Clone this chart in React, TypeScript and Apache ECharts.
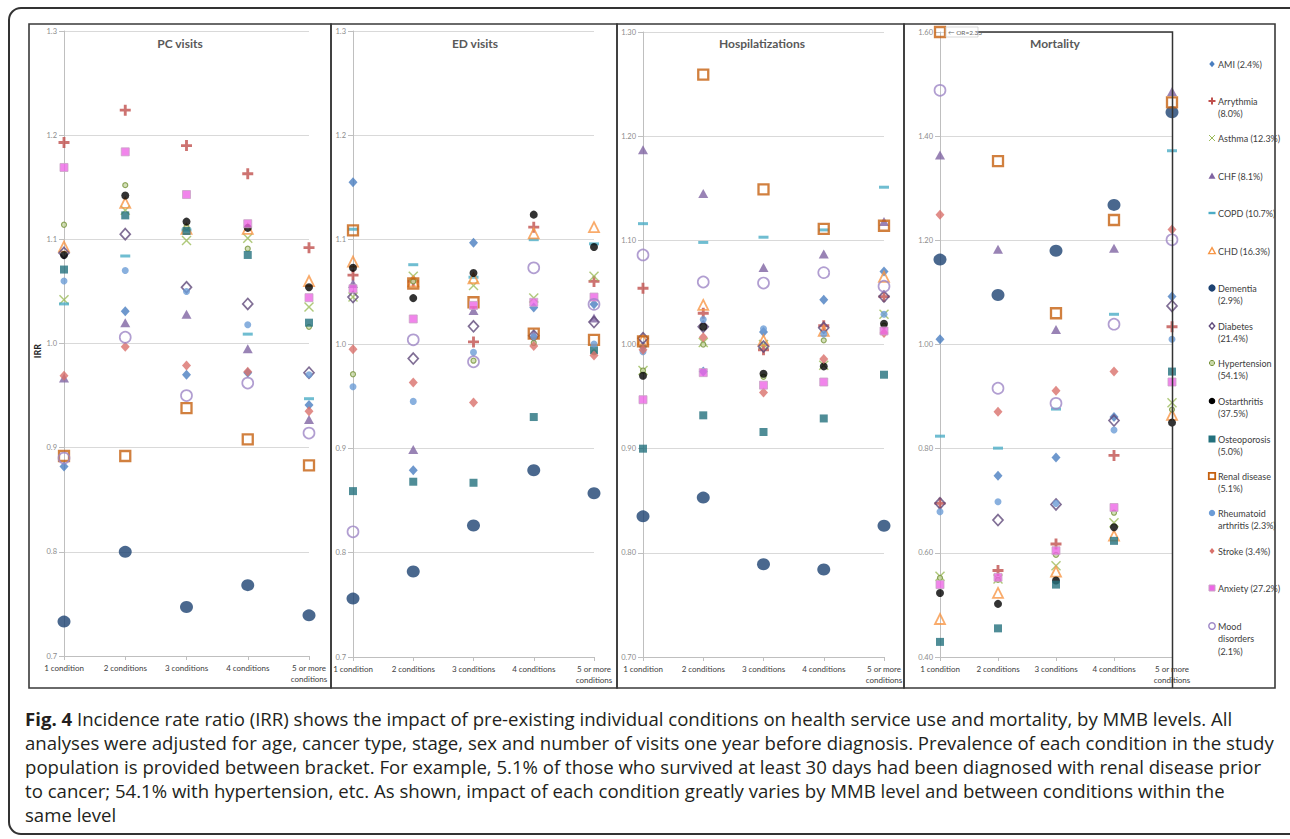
import React, { useEffect, useRef } from "react";
import * as echarts from "echarts";

const categories = ["1 condition", "2 conditions", "3 conditions", "4 conditions", "5 or more\nconditions"];

const conditionNames = [
  "AMI (2.4%)", "Arrythmia\n(8.0%)", "Asthma (12.3%)", "CHF (8.1%)", "COPD (10.7%)", "CHD (16.3%)",
  "Dementia\n(2.9%)", "Diabetes\n(21.4%)", "Hypertension\n(54.1%)", "Ostarthritis\n(37.5%)",
  "Osteoporosis\n(5.0%)", "Renal disease\n(5.1%)", "Rheumatoid\narthritis (2.3%)", "Stroke (3.4%)",
  "Anxiety (27.2%)", "Mood\ndisorders\n(2.1%)",
];

// order: AMI, Arrythmia, Asthma, CHF, COPD, CHD, Dementia, Diabetes, Hypertension,
// Ostarthritis, Osteoporosis, Renal, Rheumatoid, Stroke, Anxiety, Mood
const pcVisits: number[][] = [
  [0.882, 1.031, 0.970, 0.972, 0.941],
  [1.193, 1.224, 1.190, 1.163, 1.092],
  [1.042, 1.128, 1.099, 1.101, 1.035],
  [0.967, 1.020, 1.028, 0.995, 0.927],
  [1.038, 1.084, 1.109, 1.009, 0.947],
  [1.093, 1.135, 1.110, 1.110, 1.060],
  [0.733, 0.800, 0.747, 0.768, 0.739],
  [1.087, 1.105, 1.054, 1.038, 0.972],
  [1.114, 1.152, 1.112, 1.091, 1.016],
  [1.085, 1.142, 1.117, 1.111, 1.054],
  [1.071, 1.123, 1.108, 1.085, 1.020],
  [0.892, 0.892, 0.938, 0.908, 0.883],
  [1.060, 1.070, 1.050, 1.018, 0.970],
  [0.969, 0.997, 0.979, 0.973, 0.935],
  [1.169, 1.184, 1.143, 1.115, 1.044],
  [0.890, 1.006, 0.950, 0.962, 0.914],
];

const edVisits: number[][] = [
  [1.155, 0.879, 1.097, 1.035, 1.038],
  [1.066, 1.060, 1.002, 1.112, 1.060],
  [1.045, 1.065, 1.056, 1.044, 1.065],
  [1.058, 0.899, 1.032, 1.009, 1.025],
  [1.110, 1.076, 1.064, 1.100, 1.096],
  [1.079, 1.060, 1.063, 1.106, 1.112],
  [0.756, 0.782, 0.826, 0.879, 0.857],
  [1.045, 0.986, 1.017, 1.008, 1.021],
  [0.971, 1.060, 0.984, 1.001, 0.992],
  [1.073, 1.044, 1.068, 1.124, 1.093],
  [0.859, 0.868, 0.867, 0.930, 0.994],
  [1.109, 1.058, 1.040, 1.010, 1.004],
  [0.959, 0.945, 0.992, 1.007, 1.000],
  [0.995, 0.963, 0.944, 0.998, 0.989],
  [1.053, 1.024, 1.037, 1.040, 1.045],
  [0.820, 1.004, 0.983, 1.073, 1.038],
];

const hospitalizations: number[][] = [
  [0.998, 0.974, 1.012, 1.043, 1.070],
  [1.054, 1.030, 0.995, 1.018, 1.046],
  [0.975, 1.002, 1.000, 0.980, 1.029],
  [1.187, 1.145, 1.074, 1.087, 1.118],
  [1.116, 1.098, 1.103, 1.110, 1.151],
  [1.005, 1.038, 1.004, 1.013, 1.065],
  [0.835, 0.853, 0.789, 0.784, 0.826],
  [1.006, 1.017, 0.998, 1.016, 1.046],
  [0.975, 1.000, 0.969, 1.004, 1.018],
  [0.970, 1.017, 0.972, 0.979, 1.020],
  [0.900, 0.932, 0.916, 0.929, 0.971],
  [1.003, 1.259, 1.149, 1.111, 1.114],
  [0.993, 1.024, 1.015, 1.010, 1.029],
  [0.995, 1.007, 0.954, 0.986, 1.011],
  [0.947, 0.973, 0.961, 0.964, 1.013],
  [1.086, 1.060, 1.059, 1.069, 1.056],
];

const mortality: number[][] = [
  [1.010, 0.748, 0.783, 0.861, 1.092],
  [0.695, 0.566, 0.617, 0.787, 1.034],
  [0.555, 0.550, 0.575, 0.658, 0.888],
  [1.364, 1.183, 1.029, 1.185, 1.486],
  [0.824, 0.801, 0.876, 1.058, 1.372],
  [0.473, 0.523, 0.564, 0.633, 0.865],
  [1.163, 1.095, 1.180, 1.268, 1.446],
  [0.695, 0.663, 0.693, 0.854, 1.074],
  [0.552, 0.548, 0.596, 0.677, 0.875],
  [0.523, 0.502, 0.547, 0.649, 0.850],
  [0.429, 0.455, 0.539, 0.623, 0.948],
  [2.33, 1.352, 1.060, 1.239, 1.465],
  [0.679, 0.698, 0.695, 0.836, 1.010],
  [1.249, 0.871, 0.911, 0.948, 1.221],
  [0.539, 0.553, 0.604, 0.687, 0.928],
  [1.488, 0.916, 0.887, 1.039, 1.201],
];

const panelTitles = ["PC visits", "ED visits", "Hospilatizations", "Mortality"];
const panelData = [pcVisits, edVisits, hospitalizations, mortality];
const yMins = [0.7, 0.7, 0.7, 0.4];
const yMaxs = [1.3, 1.3, 1.3, 1.6];
const yIntervals = [0.1, 0.1, 0.1, 0.2];
const yDecimals = [1, 1, 2, 2];

const captionLines = [
  "{b|Fig. 4} Incidence rate ratio (IRR) shows the impact of pre-existing individual conditions on health service use and mortality, by MMB levels. All",
  "analyses were adjusted for age, cancer type, stage, sex and number of visits one year before diagnosis. Prevalence of each condition in the study",
  "population is provided between bracket. For example, 5.1% of those who survived at least 30 days had been diagnosed with renal disease prior",
  "to cancer; 54.1% with hypertension, etc. As shown, impact of each condition greatly varies by MMB level and between conditions within the",
  "same level",
];

const COL = {
  ami: "#4a7ec0", arr: "#c0504d", asthma: "#9bbb59", chf: "#8064a2", copd: "#4bacc6", chd: "#f79646",
  dem: "#1d4272", dia: "#604a7b", hyp: "#77933c", ost: "#000000", osteo: "#23707d", renal: "#c5600f",
  rheu: "#6c9cd6", stroke: "#d9716b", anx: "#ee66e6", mood: "#9d86c6",
};

const PLUS = "path://M3.7,0H6.3V3.7H10V6.3H6.3V10H3.7V6.3H0V3.7H3.7Z";
const CROSS = "path://M0,1L1,0L5,4L9,0L10,1L6,5L10,9L9,10L5,6L1,10L0,9L4,5Z";
const CLEAR = "rgba(255,255,255,0)";

function markerStyle(i: number): any {
  switch (i) {
    case 0: return { symbol: "diamond", symbolSize: [9, 10], itemStyle: { color: COL.ami } };
    case 1: return { symbol: PLUS, symbolSize: 11, itemStyle: { color: COL.arr } };
    case 2: return { symbol: CROSS, symbolSize: 10, itemStyle: { color: COL.asthma } };
    case 3: return { symbol: "triangle", symbolSize: [10, 9], itemStyle: { color: COL.chf } };
    case 4: return { symbol: "rect", symbolSize: [10, 3], itemStyle: { color: COL.copd } };
    case 5: return { symbol: "triangle", symbolSize: [10, 10], itemStyle: { color: CLEAR, borderColor: COL.chd, borderWidth: 1.8 } };
    case 6: return { symbol: "circle", symbolSize: [13, 12], itemStyle: { color: COL.dem } };
    case 7: return { symbol: "diamond", symbolSize: [10, 11], itemStyle: { color: CLEAR, borderColor: COL.dia, borderWidth: 1.7 } };
    case 8: return { symbol: "circle", symbolSize: 5, itemStyle: { color: "#c9d8a8", borderColor: COL.hyp, borderWidth: 1.2 } };
    case 9: return { symbol: "circle", symbolSize: 8, itemStyle: { color: COL.ost } };
    case 10: return { symbol: "rect", symbolSize: 8, itemStyle: { color: COL.osteo } };
    case 11: return { symbol: "rect", symbolSize: 10, itemStyle: { color: CLEAR, borderColor: COL.renal, borderWidth: 2.3 } };
    case 12: return { symbol: "circle", symbolSize: 7, itemStyle: { color: COL.rheu } };
    case 13: return { symbol: "diamond", symbolSize: [9, 10], itemStyle: { color: COL.stroke } };
    case 14: return { symbol: "rect", symbolSize: 8, itemStyle: { color: COL.anx, borderColor: "#c9a3c6", borderWidth: 1 } };
    default: return { symbol: "circle", symbolSize: 11, itemStyle: { color: CLEAR, borderColor: COL.mood, borderWidth: 1.7 } };
  }
}

function legendMarker(i: number, cx: number, cy: number): any[] {
  const poly = (pts: number[][], style: any) => ({ type: "polygon", shape: { points: pts }, style });
  const diamond = (r: number) => [[cx, cy - r], [cx + r * 0.85, cy], [cx, cy + r], [cx - r * 0.85, cy]];
  const tri = (r: number) => [[cx, cy - r], [cx + r, cy + r * 0.8], [cx - r, cy + r * 0.8]];
  switch (i) {
    case 0: return [poly(diamond(3.2), { fill: COL.ami })];
    case 1: return [
      { type: "rect", shape: { x: cx - 3.5, y: cy - 1, width: 7, height: 2 }, style: { fill: COL.arr } },
      { type: "rect", shape: { x: cx - 1, y: cy - 3.5, width: 2, height: 7 }, style: { fill: COL.arr } },
    ];
    case 2: return [
      { type: "line", shape: { x1: cx - 3, y1: cy - 3, x2: cx + 3, y2: cy + 3 }, style: { stroke: COL.asthma, lineWidth: 1 } },
      { type: "line", shape: { x1: cx - 3, y1: cy + 3, x2: cx + 3, y2: cy - 3 }, style: { stroke: COL.asthma, lineWidth: 1 } },
    ];
    case 3: return [poly(tri(3.5), { fill: COL.chf })];
    case 4: return [{ type: "rect", shape: { x: cx - 3.5, y: cy - 1.2, width: 7, height: 2.4 }, style: { fill: COL.copd } }];
    case 5: return [poly(tri(3.3), { fill: "none", stroke: COL.chd, lineWidth: 1.4 })];
    case 6: return [{ type: "circle", shape: { cx, cy, r: 3.6 }, style: { fill: COL.dem } }];
    case 7: return [poly(diamond(3.2), { fill: "none", stroke: COL.dia, lineWidth: 1.4 })];
    case 8: return [{ type: "circle", shape: { cx, cy, r: 2.6 }, style: { fill: "#c9d8a8", stroke: COL.hyp, lineWidth: 1 } }];
    case 9: return [{ type: "circle", shape: { cx, cy, r: 3.3 }, style: { fill: COL.ost } }];
    case 10: return [{ type: "rect", shape: { x: cx - 3.5, y: cy - 3.5, width: 7, height: 7 }, style: { fill: COL.osteo } }];
    case 11: return [{ type: "rect", shape: { x: cx - 3.2, y: cy - 3.2, width: 6.4, height: 6.4 }, style: { fill: "none", stroke: COL.renal, lineWidth: 1.8 } }];
    case 12: return [{ type: "circle", shape: { cx, cy, r: 3.2 }, style: { fill: COL.rheu } }];
    case 13: return [poly(diamond(3), { fill: COL.stroke })];
    case 14: return [{ type: "rect", shape: { x: cx - 3, y: cy - 3, width: 6, height: 6 }, style: { fill: COL.anx, stroke: "#c9a3c6", lineWidth: 1 } }];
    default: return [{ type: "circle", shape: { cx, cy, r: 3.2 }, style: { fill: "none", stroke: COL.mood, lineWidth: 1.4 } }];
  }
}

const GRIDS = [
  { left: 64, top: 31, width: 245, height: 625 },
  { left: 353, top: 31, width: 241, height: 626 },
  { left: 643, top: 32, width: 241, height: 625 },
  { left: 940, top: 32, width: 232, height: 625 },
];
const TITLE_X = [180, 475, 762, 1055];
const LEGEND_Y = [64, 101, 138, 176, 213, 251, 288, 326, 363, 401, 439, 476, 513, 551, 588, 626];

export default function App() {
  const ref = useRef<HTMLDivElement>(null);
  useEffect(() => {
    if (!ref.current) return;
    const chart = echarts.init(ref.current, undefined, { renderer: "svg" });
    const FONT = "Lato";
    const series: any[] = [];
    panelData.forEach((pd, p) => {
      pd.forEach((vals, i) => {
        const m = markerStyle(i);
        series.push({
          type: "scatter",
          name: conditionNames[i],
          xAxisIndex: p,
          yAxisIndex: p,
          clip: false,
          silent: true,
          z: 2 + i,
          symbol: m.symbol,
          symbolSize: m.symbolSize,
          itemStyle: m.itemStyle,
          data: vals.map((v) => Math.min(v, yMaxs[p])),
        });
      });
    });

    const graphic: any[] = [];
    graphic.push({ type: "rect", shape: { x: 9, y: 8, width: 1300, height: 826, r: 12 }, style: { fill: "none", stroke: "#333", lineWidth: 2 }, z: 100 });
    const boxes = [[29, 331], [331, 617], [617, 904], [904, 1275]];
    boxes.forEach(([a, b]) => {
      graphic.push({ type: "rect", shape: { x: a, y: 24, width: b - a, height: 664 }, style: { fill: "none", stroke: "#3a3a3a", lineWidth: 1.6 }, z: 100 });
    });
    panelTitles.forEach((t, p) => {
      graphic.push({ type: "text", x: TITLE_X[p], y: 43, style: { text: t, fontFamily: FONT, fontSize: 12, fontWeight: "bold", fill: "#595959", align: "center", verticalAlign: "middle" }, z: 100 });
    });
    graphic.push({ type: "text", x: 37, y: 351, rotation: Math.PI / 2, style: { text: "IRR", fontFamily: FONT, fontSize: 9, fontWeight: "bold", fill: "#222", align: "center", verticalAlign: "middle" }, z: 100 });
    // OR=2.33 callout and frame line
    graphic.push({ type: "polyline", shape: { points: [[978, 32], [1172.5, 32], [1172.5, 688]] }, style: { fill: "none", stroke: "#333", lineWidth: 1.5 }, z: 90 });
    graphic.push({ type: "rect", shape: { x: 946, y: 27, width: 32, height: 10 }, style: { fill: "#fff", stroke: "#cfcfcf", lineWidth: 0.8 }, z: 95 });
    graphic.push({ type: "text", x: 948, y: 32.5, style: { text: "\u2190 OR=2.33", fontFamily: FONT, fontSize: 6.5, fill: "#666", verticalAlign: "middle" }, z: 96 });
    // legend
    conditionNames.forEach((name, i) => {
      const cy = LEGEND_Y[i];
      legendMarker(i, 1212, cy).forEach((g) => graphic.push({ ...g, z: 100 }));
      graphic.push({ type: "text", x: 1218, y: cy - 6, style: { text: name, fontFamily: FONT, fontSize: 9, lineHeight: 12.5, fill: "#404040", verticalAlign: "top" }, z: 100 });
    });
    // caption
    captionLines.forEach((line, k) => {
      graphic.push({
        type: "text", x: 25, y: 718 + k * 24,
        style: {
          text: line, fontFamily: "Open Sans", fontSize: 18.6, fill: "#231f20", verticalAlign: "middle",
          rich: { b: { fontWeight: "bold", fontFamily: "Open Sans", fontSize: 18.6, fill: "#231f20" } },
        },
        z: 100,
      });
    });

    chart.setOption({
      animation: false,
      backgroundColor: "#fff",
      grid: GRIDS.map((g) => ({ ...g, containLabel: false })),
      xAxis: GRIDS.map((_, p) => ({
        type: "category",
        gridIndex: p,
        data: categories,
        boundaryGap: false,
        axisLine: { lineStyle: { color: "#bfbfbf", width: 1 } },
        axisTick: { show: true, alignWithLabel: true, length: 4, lineStyle: { color: "#bfbfbf" } },
        axisLabel: { fontFamily: FONT, fontSize: 8, color: "#404040", margin: 6, lineHeight: 11, interval: 0 },
        splitLine: { show: false },
      })),
      yAxis: GRIDS.map((_, p) => ({
        type: "value",
        gridIndex: p,
        min: yMins[p],
        max: yMaxs[p],
        interval: yIntervals[p],
        axisLine: { show: true, lineStyle: { color: "#bfbfbf", width: 1 } },
        axisTick: { show: true, length: 5, lineStyle: { color: "#bfbfbf" } },
        axisLabel: {
          fontFamily: FONT, fontSize: 7.5, color: "#8c8c8c", margin: 7,
          formatter: (v: number) => v.toFixed(yDecimals[p]),
        },
        splitLine: { show: true, lineStyle: { color: "#d9d9d9", width: 1 } },
      })),
      series,
      graphic,
    });
    return () => chart.dispose();
  }, []);
  return <div ref={ref} style={{ position: "fixed", left: 0, top: 0, width: 1290, height: 839 }} />;
}
